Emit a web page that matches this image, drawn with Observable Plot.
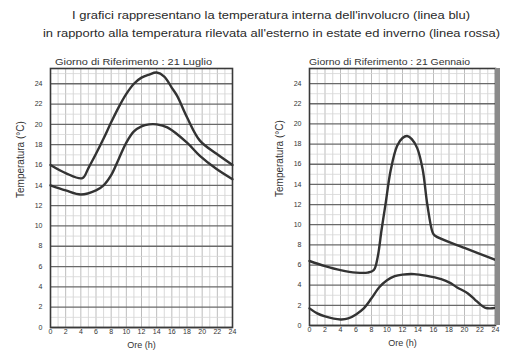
<!DOCTYPE html>
<html><head><meta charset="utf-8">
<script src="https://cdn.jsdelivr.net/npm/d3@7"></script>
<script src="https://cdn.jsdelivr.net/npm/@observablehq/plot@0.6"></script>
<style>
body{margin:0;background:#fff;}
#wrap{position:relative;width:505px;height:351px;overflow:hidden;font-family:"Liberation Sans",Arial,sans-serif;color:#2a2a2a;}
.t{position:absolute;white-space:nowrap;line-height:1;transform-origin:0 0;}
.main{font-size:11.5px;}
.sub{font-size:9.5px;color:#333;}
#left,#right{position:absolute;top:0;}
#left{left:0;} #right{left:252px;}
</style></head><body>
<div id="wrap">
<div id="left"></div>
<div id="right"></div>
<div class="t main" id="title1" style="top:10px;">I grafici rappresentano la temperatura interna dell'involucro (linea blu)</div>
<div class="t main" id="title2" style="top:28px;">in rapporto alla temperatura rilevata all'esterno in estate ed inverno (linea rossa)</div>
<div class="t sub" id="sub1" style="top:57px;"></div>
<div class="t sub" id="sub2" style="top:57px;"></div>
</div>
<script>
// tick labels
const hourTicks = [0,2,4,6,8,10,12,14,16,18,20,22,24];
const tempTicks = [0,2,4,6,8,10,12,14,16,18,20,22,24];
const minorHours = [1,3,5,7,9,11,13,15,17,19,21,23];
const minorTemps = [1,3,5,7,9,11,13,15,17,19,21,23,25];

const panelTitles = ["Giorno di Riferimento : 21 Luglio", "Giorno di Riferimento : 21 Gennaio"];
const xLabel = "Ore (h)";
const yLabel = "Temperatura (°C)";

// 21 Luglio (summer)
const summerUpperHours = [0,2,4.2,5,6,7,8,9,10,11,12,13,14,15,16,16.7,18,19.7,21.9,24];
const summerUpperTemps = [16.0,15.2,14.7,15.7,17.1,18.6,20.2,21.7,23.0,24.0,24.6,24.9,25.1,24.7,23.6,22.8,20.7,18.4,17.1,16.0];
const summerLowerHours = [0,2,4,6,7,8,9,10,11,12,13,14,15.4,18,19.7,21.9,24];
const summerLowerTemps = [14.0,13.5,13.1,13.5,14.0,15.0,16.6,18.2,19.3,19.8,20.0,20.0,19.7,18.2,16.9,15.6,14.6];

// 21 Gennaio (winter)
const winterUpperHours = [0,2,4,6,7.5,8.3,8.8,9.3,9.8,10.5,11.3,12,12.6,13.2,13.9,14.6,15.2,15.9,16.2,20,24];
const winterUpperTemps = [6.4,5.9,5.5,5.25,5.25,5.5,6.8,9.5,12.0,15.5,17.8,18.6,18.8,18.5,17.6,15.5,12.0,9.2,8.9,7.7,6.5];
const winterLowerHours = [0,1,2,4,5,6,7,8,9,10,11,12,13.5,15,17,18.2,19,20.4,21.3,22.1,22.7,23.3,24];
const winterLowerTemps = [1.7,1.2,0.9,0.6,0.7,1.1,1.7,2.7,3.8,4.5,4.9,5.05,5.1,4.95,4.6,4.2,3.8,3.2,2.6,2.05,1.75,1.7,1.75];

const toRows = (h, t) => h.map((x, i) => ({hour: x, temp: t[i]}));
const FONT = '"Liberation Sans", Arial, sans-serif';

function panel({width, marginLeft, marginRight, marginBottom, series, edgeBar}) {
  const marks = [
    Plot.ruleX(minorHours, {stroke: "#cfcfcf", strokeWidth: 0.8}),
    Plot.ruleX(hourTicks, {stroke: "#b5b5b5", strokeWidth: 0.9}),
    Plot.ruleY(minorTemps, {stroke: "#d5d5d5", strokeWidth: 0.8}),
    Plot.ruleY(tempTicks, {stroke: "#6a6a6a", strokeWidth: 1.3}),
    Plot.frame({stroke: "#3a3a3a", strokeWidth: 1.6}),
    Plot.axisX(hourTicks, {tickSize: 0, tickPadding: 2, fontSize: 7, fill: "#333", label: null}),
    Plot.axisY(tempTicks, {tickSize: 0, tickPadding: 8, fontSize: 7, fill: "#333", label: null}),
    Plot.text([xLabel], {frameAnchor: "bottom", lineAnchor: "middle", dy: 18, fontSize: 9, fill: "#333"}),
    Plot.text([yLabel], {frameAnchor: "left", lineAnchor: "middle", dx: -30, rotate: -90, fontSize: 10, fill: "#333"})
  ];
  for (const s of series) {
    marks.push(Plot.line(s, {x: "hour", y: "temp", curve: "catmull-rom", stroke: "#333", strokeWidth: 2.4}));
  }
  if (edgeBar) marks.push(Plot.ruleX([24], {stroke: "#8a8a8a", strokeWidth: 5, dx: 2}));
  return Plot.plot({
    width, height: 351,
    marginLeft, marginRight, marginTop: 68, marginBottom,
    x: {domain: [0, 24], axis: null},
    y: {domain: [0, 25.5], axis: null},
    style: {fontFamily: FONT, background: "transparent", overflow: "visible"},
    marks
  });
}

document.getElementById("left").append(panel({
  width: 252, marginLeft: 50, marginRight: 20, marginBottom: 24,
  series: [toRows(summerUpperHours, summerUpperTemps), toRows(summerLowerHours, summerLowerTemps)],
  edgeBar: false
}));
document.getElementById("right").append(panel({
  width: 253, marginLeft: 57, marginRight: 10, marginBottom: 26,
  series: [toRows(winterUpperHours, winterUpperTemps), toRows(winterLowerHours, winterLowerTemps)],
  edgeBar: true
}));

document.getElementById("sub1").textContent = panelTitles[0];
document.getElementById("sub2").textContent = panelTitles[1];

function fit(id, left, width) {
  const el = document.getElementById(id);
  el.style.left = left + "px";
  const w = el.getBoundingClientRect().width;
  el.style.transform = `scaleX(${width / w})`;
}
fit("title1", 72, 398);
fit("title2", 43, 457);
fit("sub1", 55, 157);
fit("sub2", 309, 161);
</script>
</body></html>
